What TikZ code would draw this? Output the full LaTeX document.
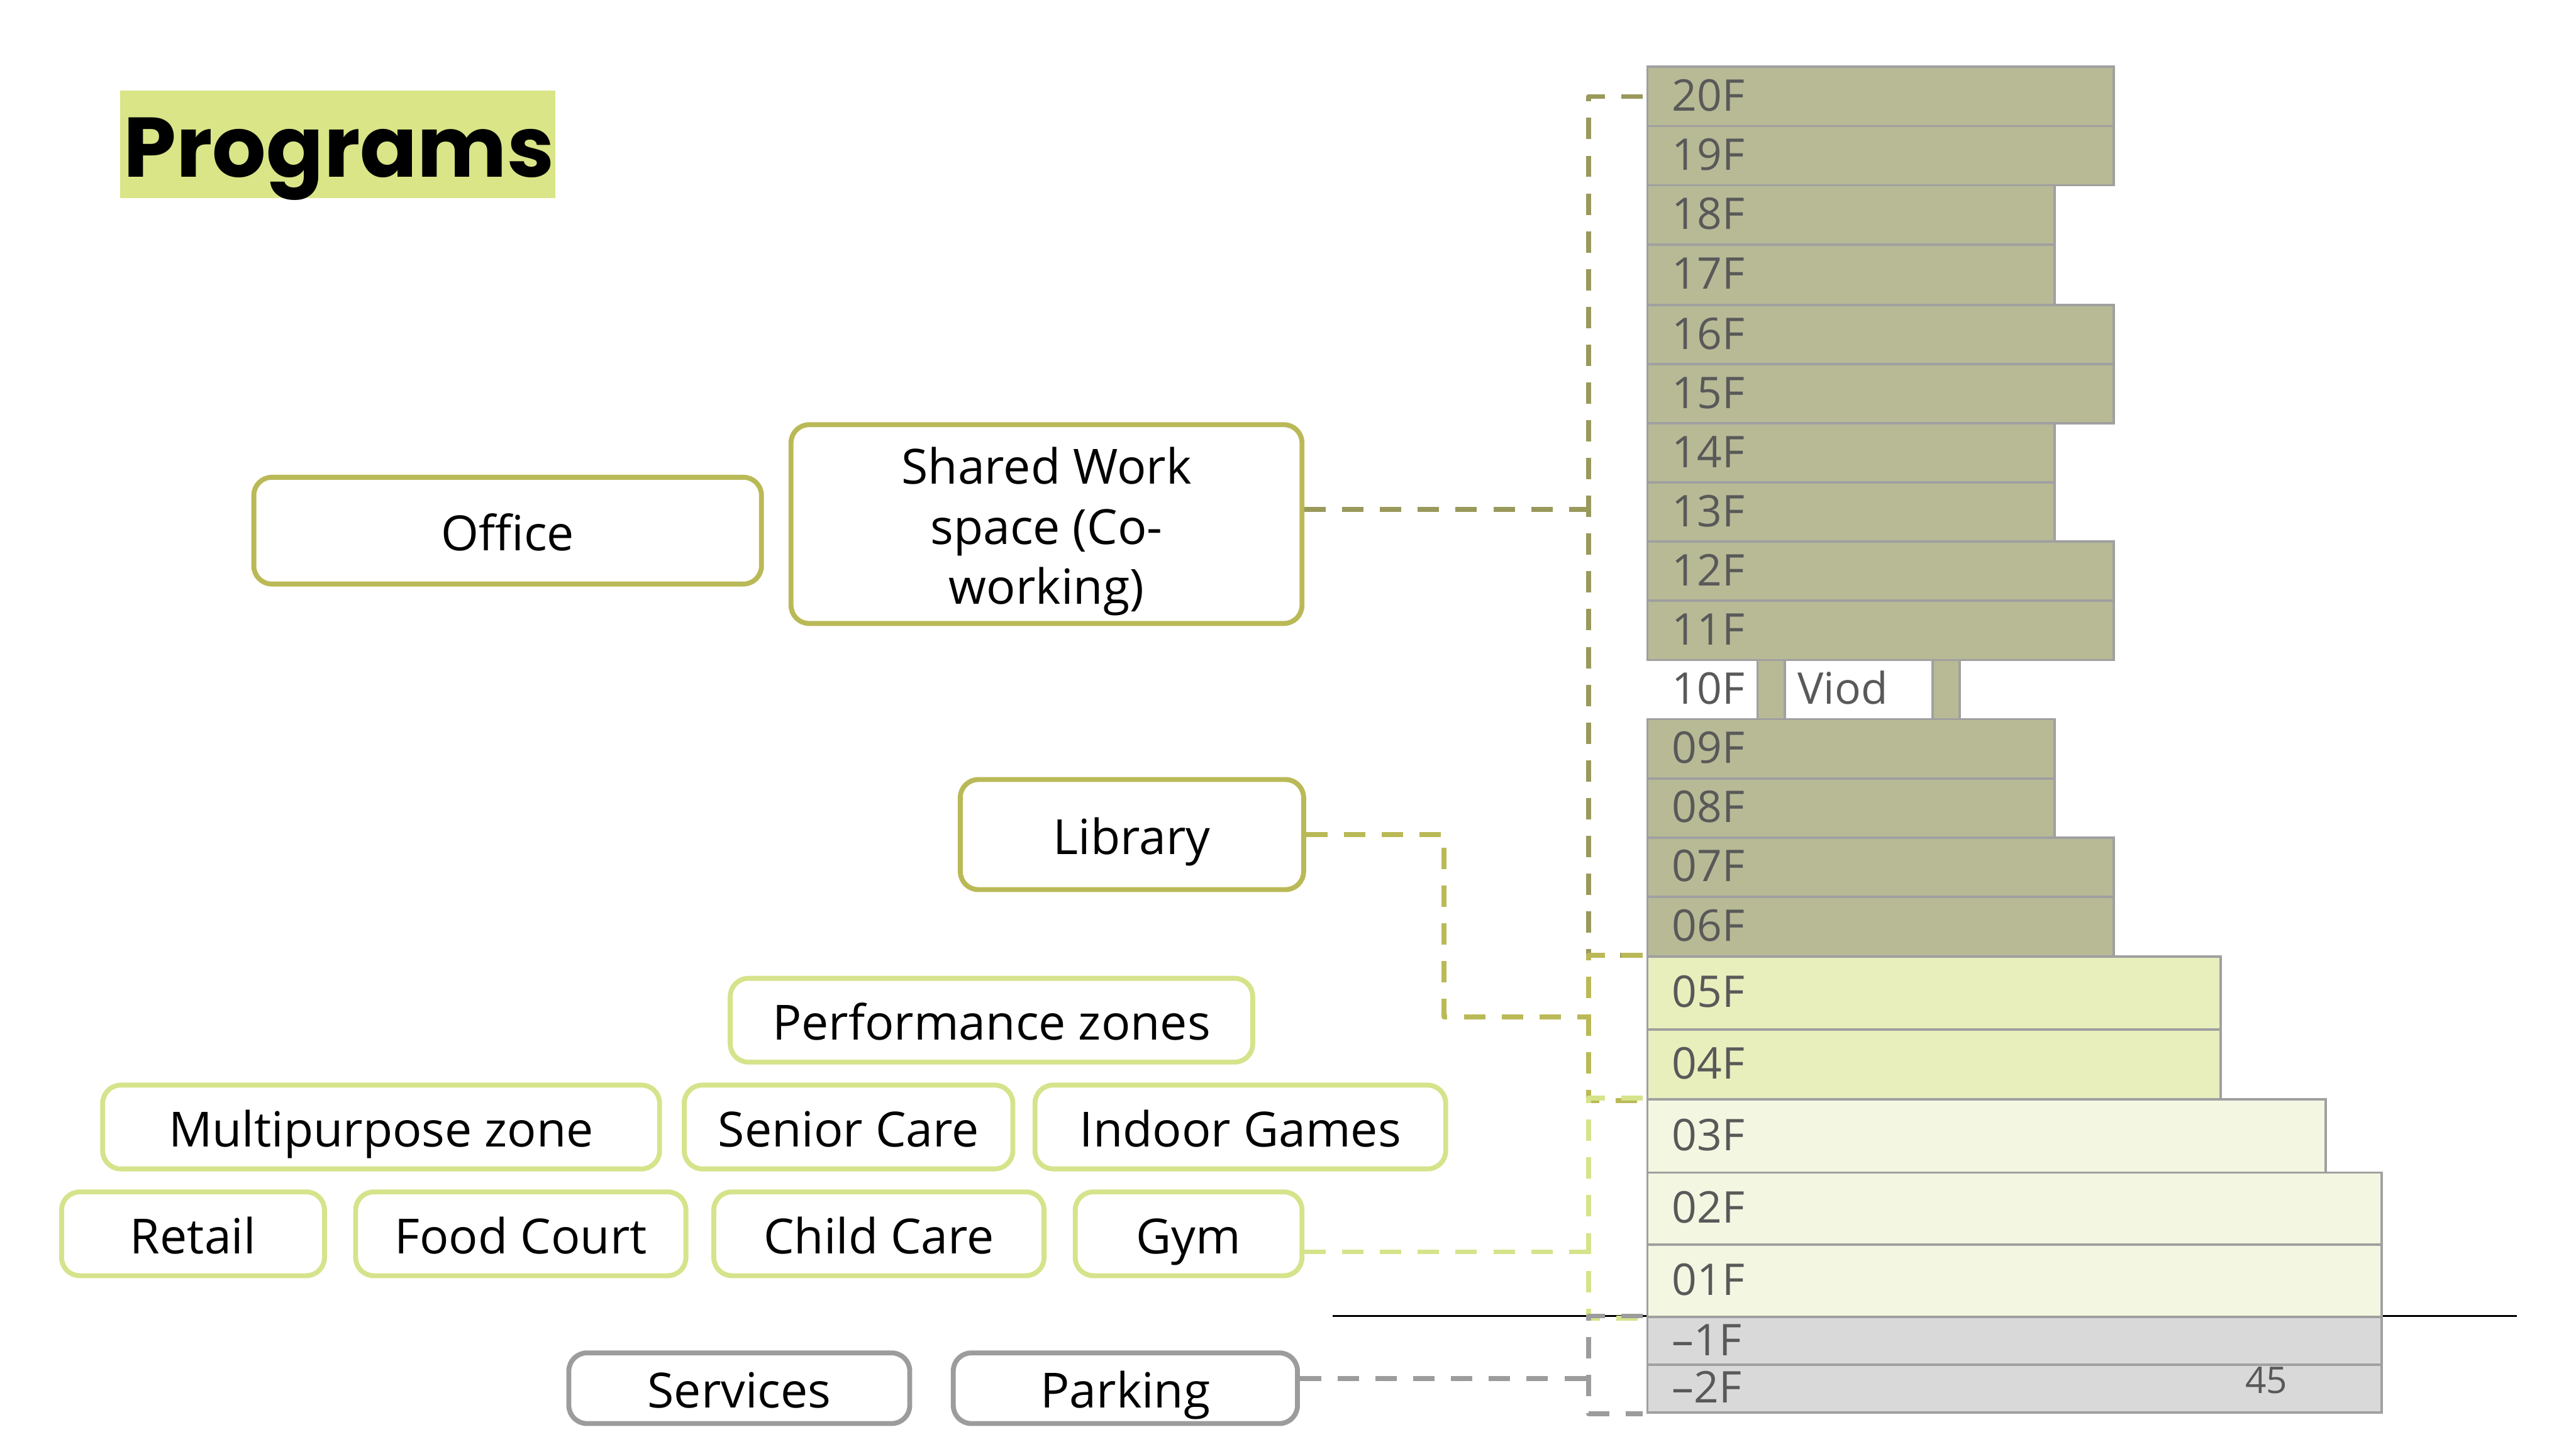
\documentclass[tikz,border=0pt]{standalone}
\usepackage{fontspec}
\setmainfont{Open Sans}
\newfontfamily\titlefont{Poppins}
\usetikzlibrary{calc}
\definecolor{olivefill}{HTML}{B8BA96}
\definecolor{lightfill}{HTML}{E8EFBD}
\definecolor{palefill}{HTML}{F3F7E1}
\definecolor{basefill}{HTML}{D9D9D9}
\definecolor{edgegray}{HTML}{A0A0A0}
\definecolor{dkolive}{HTML}{9A995C}
\definecolor{boxolive}{HTML}{BAB957}
\definecolor{ltgreen}{HTML}{D6E38B}
\definecolor{midgray}{HTML}{9C9C9C}
\definecolor{titlebg}{HTML}{D9E587}
\definecolor{floortext}{HTML}{595959}
\begin{document}
\begin{tikzpicture}[x=1pt,y=-1pt,
  floorbox/.style={draw=edgegray, line width=1.5pt, inner sep=0pt, anchor=north west},
  floortxt/.style={text=floortext, font=\fontsize{26.6}{30}\selectfont, inner sep=0pt, text height=19pt, text depth=0pt, anchor=west},
  progbox/.style={draw, fill=white, rounded corners=11pt, line width=3pt, inner sep=0pt},
  prog/.style={progbox, font=\fontsize{29.5}{36.5}\selectfont, text height=24pt, text depth=0pt},
  progtxt/.style={font=\fontsize{29.5}{36.6}\selectfont, inner sep=0pt, align=center},
  dashline/.style={line width=3pt, dash pattern=on 13pt off 10pt, line join=round}]
\useasboundingbox (0,0) rectangle (1568,882);

% title
\node[fill=titlebg, inner sep=0pt, minimum width=265, minimum height=65.4, anchor=north west] (titlebox) at (73,55) {};
\node[anchor=base west, inner sep=0pt, font=\titlefont\bfseries\fontsize{51.5}{58}\selectfont] (title) at (75,107.6) {Programs};

% ground line
\coordinate (g1) at (811,801);
\coordinate (g2) at (1532,801);
\draw[line width=1.3pt, black] (g1) -- (g2);

% floors
\foreach \k/\n/\t/\b/\r/\c in {
  20F/20F/40/76/1286/olivefill, 19F/19F/76/112/1286/olivefill,
  18F/18F/112/148/1250/olivefill, 17F/17F/148/185/1250/olivefill,
  16F/16F/185/221/1286/olivefill, 15F/15F/221/257/1286/olivefill,
  14F/14F/257/293/1250/olivefill, 13F/13F/293/329/1250/olivefill,
  12F/12F/329/365/1286/olivefill, 11F/11F/365/401/1286/olivefill,
  09F/09F/437/473/1250/olivefill, 08F/08F/473/509/1250/olivefill,
  07F/07F/509/545/1286/olivefill, 06F/06F/545/581.5/1286/olivefill,
  05F/05F/581.5/626/1351/lightfill, 04F/04F/626/668.5/1351/lightfill,
  03F/03F/668.5/713/1415/palefill, 02F/02F/713/757/1449/palefill,
  01F/01F/757/801/1449/palefill,
  m1F/\textendash1F/801/830/1449/basefill, m2F/\textendash2F/830/859/1449/basefill}
{
  \node[floorbox, fill=\c, minimum width={\r-1002}, minimum height={\b-\t}] (F\k) at (1002,\t) {};
  \node[floortxt] (L\k) at (1017.5,{(\t+\b)/2}) {\n};
}
% 10F with void
\node[floortxt] (L10F) at (1017.5,419) {10F};
\node[floorbox, fill=olivefill, minimum width=16.5, minimum height=36] (col1) at (1069,401) {};
\node[floorbox, fill=white, minimum width=90, minimum height=36] (viod) at (1085.5,401) {};
\node[floorbox, fill=olivefill, minimum width=16.5, minimum height=36] (col2) at (1175.5,401) {};
\node[floortxt] (viodtxt) at (1094,419) {Viod};
\node[text=floortext, font=\fontsize{22.4}{24}\selectfont, inner sep=0pt] (num45) at (1379.5,840) {45};

% program boxes
\node[prog, draw=boxolive, minimum width=309, minimum height=65] (office) at (309,323) {Office};
\node[progbox, draw=boxolive, minimum width=311, minimum height=121] (shared) at (637,319) {};
\node[progtxt] (sharedtxt) at (637,323.5) {Shared Work\\space (Co-\\working)};
\node[prog, draw=boxolive, minimum width=209, minimum height=67] (library) at (689,508) {Library};
\node[prog, draw=ltgreen, minimum width=318, minimum height=51] (perf) at (603.5,621) {Performance zones};
\node[prog, draw=ltgreen, minimum width=339, minimum height=51] (multi) at (232,686) {Multipurpose zone};
\node[prog, draw=ltgreen, minimum width=200, minimum height=51] (senior) at (516.5,686) {Senior Care};
\node[prog, draw=ltgreen, minimum width=250, minimum height=51] (indoor) at (755,686) {Indoor Games};
\node[prog, draw=ltgreen, minimum width=160, minimum height=51] (retail) at (117.5,751) {Retail};
\node[prog, draw=ltgreen, minimum width=201, minimum height=51] (food) at (317,751) {Food Court};
\node[prog, draw=ltgreen, minimum width=201, minimum height=51] (child) at (535,751) {Child Care};
\node[prog, draw=ltgreen, minimum width=138, minimum height=51] (gym) at (723.5,751) {Gym};
\node[prog, draw=midgray, minimum width=207.5, minimum height=43] (services) at (450,845) {Services};
\node[prog, draw=midgray, minimum width=209.5, minimum height=43] (parking) at (685,845) {Parking};

% connectors
\coordinate (spine) at (967,0);
\draw[dashline, draw=dkolive] ([xshift=-2pt]F20F.west) -- (F20F.west -| spine) -- (F05F.north west -| spine) -- ([xshift=-2pt]F05F.north west);
\draw[dashline, draw=dkolive] (shared.east |- 0,310) -- (spine |- 0,310);
\draw[dashline, draw=boxolive] ([xshift=-2pt]F05F.north west) -- (F05F.north west -| spine) -- (F04F.south west -| spine) -- ([xshift=-2pt]F04F.south west);
\draw[dashline, draw=boxolive] (library.east) -| (879,619) -- (spine |- 0,619);
\draw[dashline, draw=ltgreen] ([xshift=-2pt]F03F.north west) -- (F03F.north west -| spine) -- (F01F.south west -| spine) -- ([xshift=-2pt]F01F.south west);
\draw[dashline, draw=ltgreen] (gym.east |- 0,762) -- (spine |- 0,762);
\draw[dashline, draw=midgray] ([xshift=-2pt]Fm1F.north west) -- (Fm1F.north west -| spine) -- (Fm2F.south west -| spine) -- ([xshift=-2pt]Fm2F.south west);
\draw[dashline, draw=midgray] (parking.east |- 0,839) -- (spine |- 0,839);
\end{tikzpicture}
\end{document}
